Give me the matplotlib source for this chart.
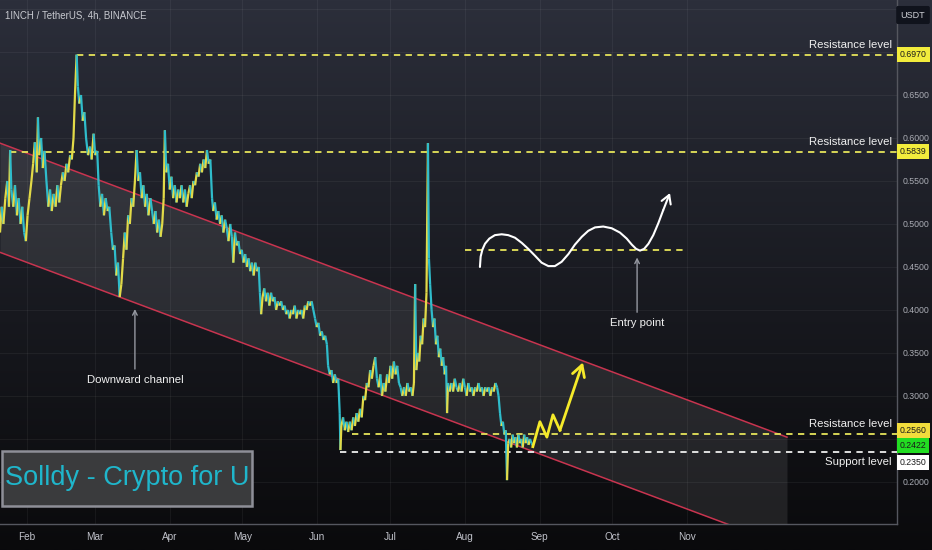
import numpy as np
import pandas as pd
import matplotlib
matplotlib.use("Agg")
import matplotlib.pyplot as plt
import matplotlib.dates as mdates
from matplotlib.collections import LineCollection
from matplotlib.patches import Rectangle
from matplotlib.transforms import blended_transform_factory

plt.rcParams['font.family'] = ['Liberation Sans', 'DejaVu Sans']

# 1INCH/USDT 4h: (days since 2023-01-01, price)
price_path = [
    (19.8, 0.49), (20.5, 0.52), (21.2, 0.50), (22.0, 0.53), (22.8, 0.55), (23.5, 0.52),
    (24.0, 0.586), (24.5, 0.54), (25.3, 0.52), (26.0, 0.545), (26.8, 0.51), (27.5, 0.53),
    (28.3, 0.50), (29.0, 0.52), (29.8, 0.49), (30.5, 0.48), (31.2, 0.51), (32.0, 0.53),
    (32.8, 0.55), (33.5, 0.57), (34.2, 0.595), (35.0, 0.56), (35.5, 0.624), (36.0, 0.58),
    (36.8, 0.60), (37.5, 0.565), (38.2, 0.585), (39.0, 0.55), (39.8, 0.52), (40.5, 0.54),
    (41.2, 0.515), (42.0, 0.535), (42.8, 0.52), (43.5, 0.545), (44.3, 0.525), (45.0, 0.545),
    (45.8, 0.56), (46.5, 0.55), (47.3, 0.57), (48.0, 0.56), (48.8, 0.58), (49.5, 0.575),
    (50.2, 0.60), (50.8, 0.65), (51.5, 0.697), (52.0, 0.66), (52.6, 0.64), (53.3, 0.65),
    (54.0, 0.62), (54.7, 0.63), (55.4, 0.60), (56.2, 0.58), (57.0, 0.59), (57.7, 0.575),
    (58.5, 0.605), (59.2, 0.58), (60.0, 0.585), (60.6, 0.545), (61.3, 0.52), (62.0, 0.535),
    (62.8, 0.51), (63.5, 0.53), (64.3, 0.515), (65.0, 0.52), (65.8, 0.49), (66.5, 0.47),
    (67.2, 0.475), (67.9, 0.44), (68.6, 0.455), (69.3, 0.415), (70.0, 0.43), (70.7, 0.46),
    (71.4, 0.49), (72.1, 0.47), (72.8, 0.51), (73.5, 0.50), (74.2, 0.53), (74.9, 0.52),
    (75.6, 0.55), (76.3, 0.586), (77.0, 0.55), (77.7, 0.56), (78.4, 0.53), (79.1, 0.545),
    (79.8, 0.52), (80.5, 0.535), (81.2, 0.51), (82.0, 0.53), (82.7, 0.515), (83.4, 0.50),
    (84.1, 0.515), (84.8, 0.49), (85.5, 0.505), (86.2, 0.485), (86.9, 0.50), (87.5, 0.53),
    (88.0, 0.609), (88.6, 0.56), (89.3, 0.57), (90.0, 0.54), (90.7, 0.555), (91.4, 0.53),
    (92.1, 0.545), (92.8, 0.525), (93.5, 0.54), (94.2, 0.53), (94.9, 0.545), (95.6, 0.525),
    (96.3, 0.54), (97.0, 0.52), (97.7, 0.535), (98.4, 0.545), (99.1, 0.53), (99.8, 0.55),
    (100.5, 0.545), (101.2, 0.56), (101.9, 0.555), (102.6, 0.57), (103.3, 0.56), (104.0, 0.575),
    (104.7, 0.565), (105.4, 0.586), (106.1, 0.57), (106.8, 0.575), (107.5, 0.53), (108.0, 0.515),
    (108.7, 0.525), (109.4, 0.505), (110.1, 0.515), (110.8, 0.50), (111.5, 0.51), (112.2, 0.49),
    (112.9, 0.505), (113.6, 0.495), (114.3, 0.48), (115.0, 0.50), (115.7, 0.485), (116.3, 0.455),
    (117.0, 0.49), (117.7, 0.475), (118.4, 0.48), (119.1, 0.465), (119.8, 0.47), (120.5, 0.455),
    (121.2, 0.465), (121.9, 0.45), (122.6, 0.46), (123.3, 0.445), (124.0, 0.455), (124.7, 0.44),
    (125.4, 0.455), (126.1, 0.445), (126.8, 0.45), (127.3, 0.42), (127.8, 0.395), (128.4, 0.415),
    (129.1, 0.425), (129.8, 0.41), (130.5, 0.42), (131.2, 0.405), (131.9, 0.42), (132.6, 0.41),
    (133.3, 0.415), (134.0, 0.40), (134.7, 0.41), (135.4, 0.405), (136.1, 0.41), (136.8, 0.40),
    (137.5, 0.405), (138.2, 0.395), (138.9, 0.40), (139.6, 0.39), (140.3, 0.40), (141.0, 0.395),
    (141.7, 0.405), (142.4, 0.39), (143.1, 0.40), (143.8, 0.395), (144.5, 0.40), (145.2, 0.39),
    (145.9, 0.405), (146.6, 0.40), (147.3, 0.41), (148.0, 0.405), (148.7, 0.41), (149.4, 0.40),
    (150.1, 0.39), (150.8, 0.38), (151.5, 0.385), (152.2, 0.37), (152.9, 0.375), (153.6, 0.365),
    (154.3, 0.37), (155.0, 0.36), (155.5, 0.335), (156.2, 0.325), (156.9, 0.33), (157.6, 0.315),
    (158.3, 0.325), (159.0, 0.315), (159.7, 0.32), (160.3, 0.28), (160.6, 0.237), (161.0, 0.265),
    (161.7, 0.275), (162.4, 0.26), (163.1, 0.27), (163.8, 0.258), (164.5, 0.27), (165.2, 0.26),
    (165.9, 0.275), (166.6, 0.265), (167.3, 0.28), (168.0, 0.27), (168.7, 0.285), (169.4, 0.275),
    (170.1, 0.30), (170.8, 0.295), (171.5, 0.315), (172.2, 0.31), (172.9, 0.33), (173.6, 0.32),
    (174.3, 0.335), (175.0, 0.345), (175.7, 0.32), (176.4, 0.31), (177.1, 0.325), (177.8, 0.30),
    (178.5, 0.315), (179.2, 0.305), (179.9, 0.325), (180.6, 0.315), (181.3, 0.335), (182.0, 0.32),
    (182.7, 0.34), (183.4, 0.325), (184.1, 0.335), (184.8, 0.315), (185.5, 0.31), (186.2, 0.30),
    (186.9, 0.31), (187.6, 0.30), (188.3, 0.315), (189.0, 0.305), (189.7, 0.31), (190.4, 0.30),
    (191.0, 0.315), (191.5, 0.43), (192.0, 0.33), (192.6, 0.35), (193.2, 0.34), (193.8, 0.37),
    (194.4, 0.36), (195.0, 0.39), (195.6, 0.38), (196.2, 0.42), (196.8, 0.594), (197.2, 0.46),
    (197.7, 0.43), (198.3, 0.40), (198.9, 0.38), (199.5, 0.39), (200.1, 0.36), (200.7, 0.37),
    (201.3, 0.345), (201.9, 0.355), (202.5, 0.335), (203.1, 0.345), (203.7, 0.325), (204.3, 0.335),
    (204.7, 0.28), (205.1, 0.315), (205.8, 0.305), (206.5, 0.315), (207.2, 0.305), (207.9, 0.32),
    (208.6, 0.31), (209.3, 0.305), (210.0, 0.315), (210.7, 0.305), (211.4, 0.32), (212.1, 0.31),
    (212.8, 0.30), (213.5, 0.315), (214.2, 0.305), (214.9, 0.31), (215.6, 0.30), (216.3, 0.31),
    (217.0, 0.305), (217.7, 0.315), (218.4, 0.305), (219.1, 0.31), (219.8, 0.30), (220.5, 0.31),
    (221.2, 0.305), (221.9, 0.31), (222.6, 0.30), (223.3, 0.31), (224.0, 0.305), (224.7, 0.315),
    (225.4, 0.31), (226.0, 0.30), (226.6, 0.28), (227.2, 0.265), (227.8, 0.27), (228.4, 0.255),
    (229.0, 0.26), (229.5, 0.202), (230.0, 0.245), (230.6, 0.25), (231.2, 0.24), (231.8, 0.255),
    (232.4, 0.245), (233.0, 0.252), (233.6, 0.24), (234.2, 0.255), (234.8, 0.245), (235.4, 0.25),
    (236.0, 0.24), (236.6, 0.255), (237.2, 0.245), (237.8, 0.252), (238.4, 0.243), (239.0, 0.25),
    (239.6, 0.245), (240.2, 0.2422),
]

# horizontal levels: price, first day, colour, label
level_prices = [0.6970, 0.5839, 0.2560, 0.2350]
level_start = [51.6, 24.0, 165.4, 160.4]
level_colors = ['#e6e45a', '#e6e45a', '#e6e45a', '#eeeeee']
level_labels = ['Resistance level', 'Resistance level', 'Resistance level', 'Support level']

# price tags on the right scale
tag_texts = ['0.6970', '0.5839', '0.2560', '0.2422', '0.2350']
tag_y = [0.6970, 0.5839, 0.2594, 0.2422, 0.2229]
tag_colors = ['#f2ec3c', '#f2ec3c', '#f2dc3c', '#22dd22', '#ffffff']

# parallel channel
channel_days = [19.8, 345.3]
channel_upper = [0.594, 0.252]
channel_lower = [0.467, 0.125]

# projected move (yellow)
proj_days = [240.2, 243.1, 246.0, 248.5, 251.4, 260.9]
proj_vals = [0.241, 0.270, 0.252, 0.278, 0.260, 0.339]

# hand-drawn entry sketch (white)
wave_days = [218.3, 218.6, 219.3, 220.4, 222.2, 224.5, 227.3, 230.0, 232.8, 235.6,
             238.3, 241.1, 243.8, 246.6, 249.3, 252.1, 254.9, 257.6, 260.4, 263.1,
             265.9, 269.3, 272.8, 276.2, 279.0, 281.1, 282.9, 284.5, 286.2, 288.0,
             290.0, 292.1, 294.1, 296.9]
wave_vals = [0.450, 0.462, 0.470, 0.477, 0.483, 0.487, 0.488, 0.487, 0.484, 0.478,
             0.471, 0.463, 0.455, 0.451, 0.451, 0.456, 0.465, 0.476, 0.485, 0.492,
             0.496, 0.497, 0.495, 0.490, 0.483, 0.476, 0.471, 0.469, 0.471, 0.477,
             0.487, 0.501, 0.516, 0.536]
entry_level = 0.470
entry_span = [212.1, 304.4]

price_ticks = [0.20, 0.30, 0.35, 0.40, 0.45, 0.50, 0.55, 0.60, 0.65]
month_ticks = ['2023-02-01', '2023-03-01', '2023-04-01', '2023-05-01', '2023-06-01',
               '2023-07-01', '2023-08-01', '2023-09-01', '2023-10-01', '2023-11-01']

base = mdates.date2num(pd.Timestamp('2023-01-01'))
def d(days):
    return base + np.asarray(days, dtype=float)

W, H = 932, 550
fig = plt.figure(figsize=(W / 100, H / 100), dpi=100)

# gradient background
bg = fig.add_axes([0, 0, 1, 1], zorder=-10)
grad = np.linspace(0, 1, 256).reshape(-1, 1)
top = np.array([44, 47, 59]) / 255
bottom = np.array([10, 10, 12]) / 255
img = top + (bottom - top) * grad[..., None] ** 0.9
bg.imshow(img, aspect='auto', extent=[0, 1, 0, 1])
bg.set_axis_off()

ax = fig.add_axes([0, 26 / H, 897 / W, 524 / H])
ax.patch.set_alpha(0)
ax.set_xlim(d(19.8), d(390.8))
ax.set_ylim(0.151, 0.7605)

for s in ['top', 'left']:
    ax.spines[s].set_visible(False)
for s in ['right', 'bottom']:
    ax.spines[s].set_color('#55575f')
    ax.spines[s].set_linewidth(1)

ax.set_xticks(mdates.date2num(pd.to_datetime(month_ticks)))
ax.xaxis.set_major_formatter(mdates.DateFormatter('%b'))
ax.set_yticks(np.arange(0.20, 0.751, 0.05), minor=True)
ax.yaxis.tick_right()
ax.set_yticks(price_ticks)
ax.yaxis.set_major_formatter(plt.FormatStrFormatter('%.4f'))
ax.tick_params(axis='y', which='both', length=0, pad=4, labelsize=6.3, labelcolor='#aaacb4')
ax.tick_params(axis='x', length=0, pad=6, labelsize=7.2, labelcolor='#c0c2ca')
ax.grid(True, which='both', color='white', alpha=0.05, lw=0.8)

# channel
cx = d(channel_days)
ax.fill_between(cx, channel_lower, channel_upper, color='white', alpha=0.09, lw=0, zorder=1)
ax.plot(cx, channel_upper, color='#c8344f', lw=1.1, zorder=2)
ax.plot(cx, channel_lower, color='#c8344f', lw=1.1, zorder=2)

# price path, yellow up / teal down
days, vals = zip(*price_path)
pts = np.column_stack([d(days), vals])
segs = np.stack([pts[:-1], pts[1:]], axis=1)
cols = ['#e2da48' if b >= a else '#2fbccb' for a, b in zip(vals[:-1], vals[1:])]
ax.add_collection(LineCollection(segs, colors=cols, linewidths=1.6, zorder=4))

# levels
for p, s, c, lab in zip(level_prices, level_start, level_colors, level_labels):
    ax.plot([d(s), d(390.8)], [p, p], color=c, lw=1.3, dashes=(3.5, 3.0), zorder=3)
    up = lab.startswith('Res')
    ax.annotate(lab, xy=(0.994, p), xycoords=('axes fraction', 'data'),
                xytext=(0, 3.5 if up else -3.5), textcoords='offset points',
                ha='right', va='bottom' if up else 'top',
                color='#f0f0f0', fontsize=8.2, zorder=6)

# entry sketch
ax.plot(d(entry_span), [entry_level, entry_level], color='#e6e45a', lw=1.3,
        dashes=(3.5, 3.0), zorder=3)
ax.plot(d(wave_days[:-1]), wave_vals[:-1], color='white', lw=1.5, zorder=5,
        solid_capstyle='round', solid_joinstyle='round')
ax.annotate('', xy=(d(wave_days[-1]), wave_vals[-1]), xytext=(d(wave_days[-2]), wave_vals[-2]),
            arrowprops=dict(arrowstyle='->,head_length=0.6,head_width=0.35', color='white',
                            lw=1.5, shrinkA=0, shrinkB=0), zorder=5)

# projected path
ax.plot(d(proj_days[:-1]), proj_vals[:-1], color='#f5ea2a', lw=2, zorder=5)
ax.annotate('', xy=(d(proj_days[-1]), proj_vals[-1]), xytext=(d(proj_days[-2]), proj_vals[-2]),
            arrowprops=dict(arrowstyle='->,head_length=0.8,head_width=0.45', color='#f5ea2a',
                            lw=2, shrinkA=0, shrinkB=0), zorder=5)

# callouts
ax.annotate('Entry point', xy=(d(283.3), 0.461), xytext=(d(283.3), 0.385),
            ha='center', va='center', color='#f0f0f0', fontsize=8.2,
            arrowprops=dict(arrowstyle='->', color='#9598a1', lw=1, shrinkA=2, shrinkB=0))
ax.annotate('Downward channel', xy=(d(75.6), 0.401), xytext=(d(75.6), 0.319),
            ha='center', va='center', color='#f0f0f0', fontsize=8.2,
            arrowprops=dict(arrowstyle='->', color='#9598a1', lw=1, shrinkA=2, shrinkB=0))

# price tags
tr = blended_transform_factory(fig.transFigure, ax.transData)
for t, y, c in zip(tag_texts, tag_y, tag_colors):
    ax.text(913 / W, y, t, transform=tr, ha='center', va='center', fontsize=6.3,
            color='#1a1a1a', clip_on=False, zorder=10,
            bbox=dict(boxstyle='square,pad=0.35', fc=c, ec='none'))

fig.text(913 / W, 1 - 15 / H, 'USDT', ha='center', va='center', fontsize=6.5, color='#d0d2d8',
         bbox=dict(boxstyle='round,pad=0.5,rounding_size=0.2', fc='#10131c', ec='none'))
fig.text(5 / W, 1 - 15 / H, '1INCH / TetherUS, 4h, BINANCE', ha='left', va='center',
         fontsize=7, color='#c8cad0')

# watermark box
fig.add_artist(Rectangle((2 / W, 1 - 506 / H), 250 / W, 55 / H, transform=fig.transFigure,
                         fc='#3a3b3d', ec='#8e8f98', lw=1.8, zorder=20))
fig.text(127 / W, 1 - 478 / H, 'Solldy - Crypto for U', ha='center', va='center',
         fontsize=19.5, color='#1fb6cb', zorder=21)

fig.savefig('out.png', dpi=100)
